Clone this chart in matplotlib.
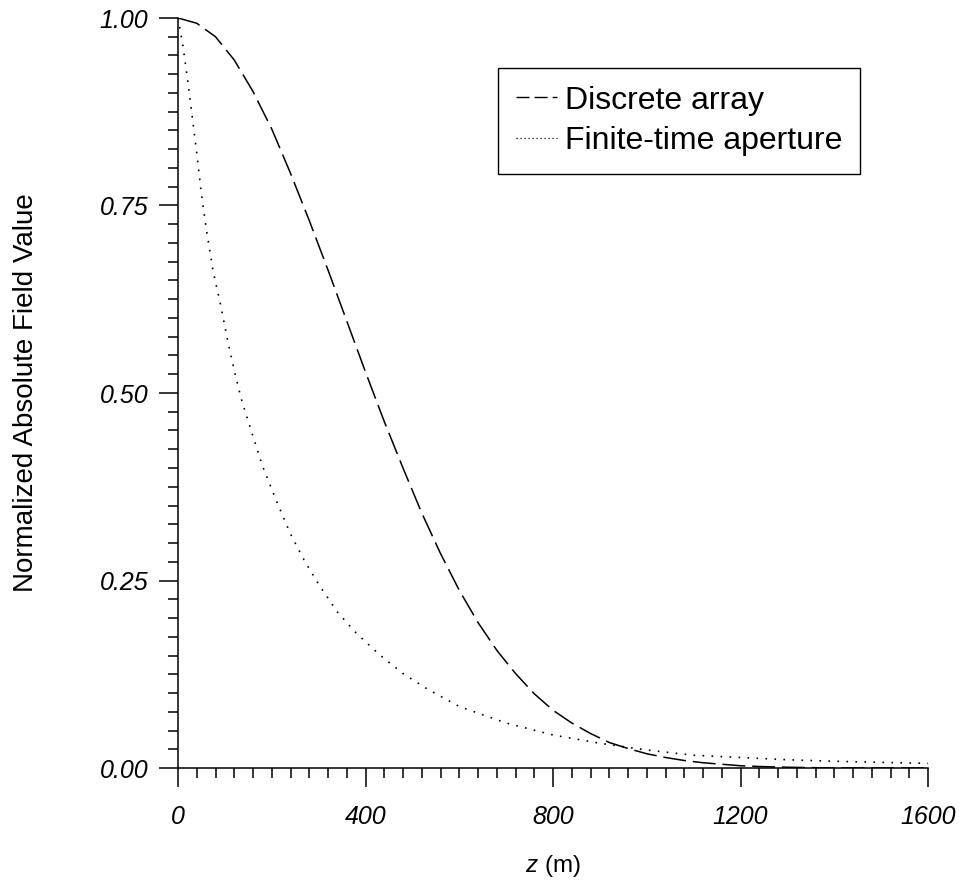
import numpy as np
import matplotlib
matplotlib.use('Agg')
import matplotlib.pyplot as plt
from matplotlib.lines import Line2D
from matplotlib.ticker import MultipleLocator, FixedLocator

plt.rcParams['font.family'] = ['Liberation Sans', 'DejaVu Sans']
plt.rcParams['mathtext.fontset'] = 'custom'
plt.rcParams['mathtext.it'] = 'Liberation Sans:italic'
plt.rcParams['mathtext.rm'] = 'Liberation Sans'

# Discrete array (dashed)
z_discrete = [0, 40, 80, 120, 160, 200, 240, 280, 320, 360, 400, 440, 480, 520,
              560, 600, 640, 680, 720, 760, 800, 840, 880, 920, 960, 1000, 1040,
              1080, 1120, 1160, 1200, 1240, 1300, 1400, 1600]
v_discrete = [1.000, 0.993, 0.975, 0.944, 0.902, 0.852, 0.793, 0.730, 0.664,
              0.596, 0.528, 0.462, 0.400, 0.340, 0.286, 0.237, 0.194, 0.157,
              0.126, 0.099, 0.077, 0.060, 0.046, 0.034, 0.026, 0.019, 0.014,
              0.010, 0.007, 0.005, 0.003, 0.002, 0.001, 0.0, 0.0]

# Finite-time aperture (dotted)
z_finite = [0, 10, 20, 30, 40, 50, 60, 75, 90, 105, 120, 135, 150, 180, 210,
            240, 270, 300, 340, 380, 430, 480, 530, 600, 700, 800, 900, 1000,
            1100, 1200, 1300, 1400, 1500, 1600]
v_finite = [1.000, 0.965, 0.920, 0.870, 0.820, 0.765, 0.720, 0.662, 0.620,
            0.573, 0.530, 0.492, 0.462, 0.403, 0.356, 0.312, 0.276, 0.245,
            0.208, 0.180, 0.151, 0.126, 0.106, 0.082, 0.060, 0.044, 0.033,
            0.024, 0.017, 0.014, 0.011, 0.009, 0.0075, 0.0062]

x_ticks = [0, 400, 800, 1200, 1600]
y_ticks = [0.00, 0.25, 0.50, 0.75, 1.00]

fig = plt.figure(figsize=(9.64, 8.88), dpi=100)
ax = fig.add_axes([178/964, 1 - 768/888, 750/964, 750/888])

ax.plot(z_discrete, v_discrete, color='black', lw=1.1, dashes=(15, 4.5))
ax.plot(z_finite, v_finite, color='black', lw=1.2, dashes=(1, 4.4))

ax.set_xlim(0, 1600)
ax.set_ylim(0, 1.0)
ax.spines['top'].set_visible(False)
ax.spines['right'].set_visible(False)
for s in ('left', 'bottom'):
    ax.spines[s].set_linewidth(1.1)
    ax.spines[s].set_clip_on(False)

ax.xaxis.set_major_locator(FixedLocator(x_ticks))
ax.yaxis.set_major_locator(FixedLocator(y_ticks))
ax.xaxis.set_minor_locator(MultipleLocator(40))
ax.yaxis.set_minor_locator(MultipleLocator(0.025))
ax.set_xticklabels([str(t) for t in x_ticks], fontstyle='italic')
ax.set_yticklabels(['%.2f' % t for t in y_ticks], fontstyle='italic')
ax.tick_params(which='major', direction='out', length=13.5, width=1.1,
               labelsize=18, color='black')
ax.tick_params(which='minor', direction='out', length=7, width=1.1)
ax.tick_params(axis='x', which='major', pad=13)
ax.tick_params(axis='y', which='major', pad=8)

ax.set_xlabel(r'$z$ (m)', fontsize=17.5)
ax.xaxis.set_label_coords(0.5, -0.131)
ax.xaxis.label.set_va('center')
ax.set_ylabel('Normalized Absolute Field Value', fontsize=20)
ax.yaxis.set_label_coords(-0.203, 0.5)
ax.yaxis.label.set_va('center')

handles = [Line2D([], [], color='black', lw=1.0, dashes=(9.4, 3.6)),
           Line2D([], [], color='black', lw=0.9, dashes=(1, 2.2))]
leg = ax.legend(handles, ['Discrete array', 'Finite-time aperture'],
                loc='upper left', bbox_to_anchor=(0.4267, 0.9333),
                borderaxespad=0, fontsize=23, frameon=True, fancybox=False,
                edgecolor='black', framealpha=1, handlelength=1.3,
                handletextpad=0.25, borderpad=0.55, labelspacing=0.34)
leg.get_frame().set_linewidth(1.0)

plt.savefig('out.png', dpi=100)
